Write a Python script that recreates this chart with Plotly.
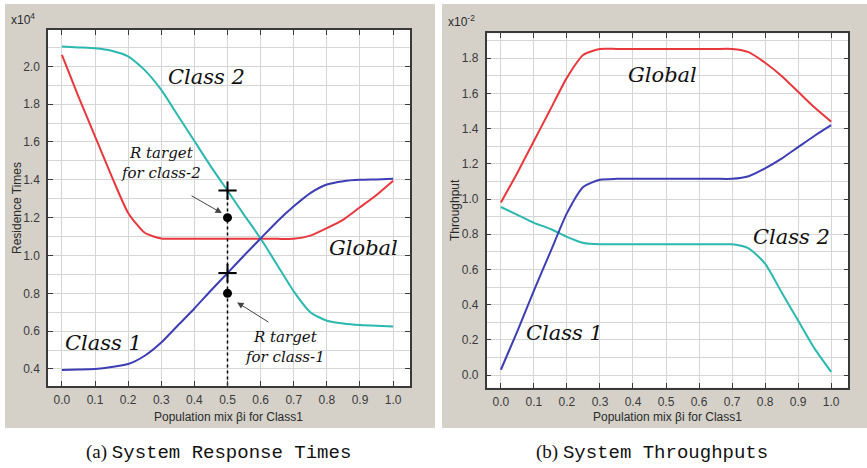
import plotly.graph_objects as go

# Population mix beta_i for Class1
mix = [0.0, 0.05, 0.1, 0.15, 0.2, 0.25, 0.3, 0.35, 0.4, 0.45, 0.5,
       0.55, 0.6, 0.65, 0.7, 0.75, 0.8, 0.85, 0.9, 0.95, 1.0]

# Residence times (x10^4)
resid_class1 = [0.395, 0.397, 0.40, 0.41, 0.426, 0.47, 0.54, 0.63, 0.72, 0.815, 0.907,
                1.0, 1.09, 1.18, 1.26, 1.33, 1.375, 1.393, 1.40, 1.402, 1.405]
resid_class2 = [2.105, 2.10, 2.095, 2.082, 2.052, 1.98, 1.875, 1.74, 1.605, 1.47, 1.343,
                1.215, 1.09, 0.95, 0.81, 0.70, 0.655, 0.64, 0.632, 0.628, 0.625]
resid_global = [2.06, 1.84, 1.63, 1.42, 1.225, 1.12, 1.09, 1.088, 1.088, 1.088, 1.088,
                1.088, 1.088, 1.088, 1.088, 1.105, 1.145, 1.19, 1.255, 1.32, 1.395]

# Throughputs (x10^-2)
thr_class1 = [0.03, 0.25, 0.48, 0.70, 0.92, 1.07, 1.11, 1.115, 1.115, 1.115, 1.115,
              1.115, 1.115, 1.115, 1.115, 1.13, 1.175, 1.23, 1.295, 1.36, 1.42]
thr_class2 = [0.955, 0.91, 0.865, 0.83, 0.785, 0.75, 0.743, 0.743, 0.743, 0.743, 0.743,
              0.743, 0.743, 0.743, 0.743, 0.72, 0.633, 0.47, 0.31, 0.15, 0.018]
thr_global = [0.98, 1.15, 1.33, 1.51, 1.69, 1.82, 1.853, 1.853, 1.853, 1.853, 1.853,
              1.853, 1.853, 1.853, 1.853, 1.835, 1.775, 1.70, 1.61, 1.52, 1.44]

# Response-time targets at beta = 0.5
target_mix = 0.5
target_class1 = 0.8
target_class2 = 1.2
achieved_class1 = 0.907
achieved_class2 = 1.343

x_ticks = [0.0, 0.1, 0.2, 0.3, 0.4, 0.5, 0.6, 0.7, 0.8, 0.9, 1.0]

RED = "#e8383d"
TEAL = "#2bb8ae"
BLUE = "#3d3db4"
PANEL = "#d5d1c9"
W, H = 867, 468

fig = go.Figure()

# Left panel: residence times
for ys, col in [(resid_global, RED), (resid_class2, TEAL), (resid_class1, BLUE)]:
    fig.add_trace(go.Scatter(x=mix, y=ys, mode="lines", line=dict(color=col, width=2, shape="spline", smoothing=0.6),
                             xaxis="x", yaxis="y", showlegend=False, hoverinfo="skip"))

y_lo_left = 0.31
fig.add_trace(go.Scatter(x=[target_mix, target_mix], y=[achieved_class2, y_lo_left], mode="lines",
                         line=dict(color="black", width=1.5, dash="dot"),
                         xaxis="x", yaxis="y", showlegend=False))
fig.add_trace(go.Scatter(x=[target_mix, target_mix], y=[achieved_class2, achieved_class1], mode="markers",
                         marker=dict(symbol="cross-thin", size=13, line=dict(color="black", width=2)),
                         xaxis="x", yaxis="y", showlegend=False))
fig.add_trace(go.Scatter(x=[target_mix, target_mix], y=[target_class2, target_class1], mode="markers",
                         marker=dict(symbol="circle", size=9, color="black"),
                         xaxis="x", yaxis="y", showlegend=False))

# Right panel: throughputs
for ys, col in [(thr_global, RED), (thr_class2, TEAL), (thr_class1, BLUE)]:
    fig.add_trace(go.Scatter(x=mix, y=ys, mode="lines", line=dict(color=col, width=2, shape="spline", smoothing=0.6),
                             xaxis="x2", yaxis="y2", showlegend=False, hoverinfo="skip"))


def px(xp):
    return xp / W


def py(yp):
    return 1 - yp / H


tick_font = dict(family="Liberation Sans, Arial, sans-serif", size=12, color="#3a3a3a")
grid = "#d6d6d6"
axis_common = dict(showline=True, linecolor="#3a3a3a", linewidth=1.5, mirror="allticks",
                   ticks="inside", ticklen=5, tickcolor="#3a3a3a", gridcolor=grid, gridwidth=1,
                   tickfont=tick_font, zeroline=False, tickformat=".1f")

fig.update_layout(
    width=W, height=H, margin=dict(l=0, r=0, t=0, b=0),
    paper_bgcolor="white", plot_bgcolor="rgba(0,0,0,0)",
    xaxis=dict(domain=[px(48), px(410)], range=[-0.042, 1.051], tickvals=x_ticks,
               anchor="y", ticklabelstandoff=2, **axis_common),
    yaxis=dict(domain=[py(386), py(30)], range=[y_lo_left, 2.192], tick0=0, dtick=0.2,
               minor=dict(dtick=0.1, showgrid=True, gridcolor=grid, ticks=""),
               anchor="x", ticklabelstandoff=4, **axis_common),
    xaxis2=dict(domain=[px(486.7), px(848.3)], range=[-0.043, 1.052], tickvals=x_ticks,
                anchor="y2", ticklabelstandoff=2, **axis_common),
    yaxis2=dict(domain=[py(387.7), py(33.3)], range=[-0.072, 1.942], tick0=0, dtick=0.2,
                minor=dict(dtick=0.1, showgrid=True, gridcolor=grid, ticks=""),
                anchor="x2", ticklabelstandoff=4, **axis_common),
)

# Gray panels and white plotting areas
shapes = [
    dict(type="rect", xref="paper", yref="paper", x0=px(5), x1=px(435), y0=py(428), y1=py(4),
         fillcolor=PANEL, line=dict(width=0), layer="below"),
    dict(type="rect", xref="paper", yref="paper", x0=px(442), x1=px(867), y0=py(428), y1=py(4),
         fillcolor=PANEL, line=dict(width=0), layer="below"),
    dict(type="rect", xref="x domain", yref="y domain", x0=0, x1=1, y0=0, y1=1,
         fillcolor="white", line=dict(width=0), layer="below"),
    dict(type="rect", xref="x2 domain", yref="y2 domain", x0=0, x1=1, y0=0, y1=1,
         fillcolor="white", line=dict(width=0), layer="below"),
]
fig.update_layout(shapes=shapes)

hand = dict(family="DejaVu Serif, serif", size=21, color="#111111")
small_hand = dict(family="DejaVu Serif, serif", size=15, color="#111111")
label_font = dict(family="Liberation Sans, Arial, sans-serif", size=12, color="#2a2a2a")


def note(text, x, y, xref="paper", yref="paper", font=label_font, **kw):
    # Text label centred on the given point
    return dict(text=text, x=x, y=y, xref=xref, yref=yref, xanchor=kw.pop("xanchor", "center"),
                yanchor="middle", showarrow=False, font=font, **kw)


annotations = [
    # Scale factors
    note("x10<sup>4</sup>", px(9), py(19), xanchor="left"),
    note("x10<sup>-2</sup>", px(446), py(21), xanchor="left"),
    # Axis titles
    note("Residence Times", px(17), py(208), textangle=-90),
    note("Throughput", px(455), py(210), textangle=-90),
    note("Population mix βi for Class1", px(229), py(417)),
    note("Population mix βi for Class1", px(667.5), py(417)),
    # Captions
    note("(a) <span style='font-family:Liberation Mono, monospace'>System Response Times</span>",
         px(218), py(452), font=dict(family="Liberation Serif, serif", size=19, color="#111111")),
    note("(b) <span style='font-family:Liberation Mono, monospace'>System Throughputs</span>",
         px(652), py(452), font=dict(family="Liberation Serif, serif", size=19, color="#111111")),
    # Curve labels, left panel
    note("<i>Class 2</i>", 0.438, 1.943, "x", "y", hand),
    note("<i>Class 1</i>", 0.127, 0.536, "x", "y", hand),
    note("<i>Global</i>", 0.912, 1.04, "x", "y", hand),
    note("<i>R target<br>for class-2</i>", 0.30, 1.49, "x", "y", small_hand),
    note("<i>R target<br>for class-1</i>", 0.674, 0.515, "x", "y", small_hand),
    dict(text="", x=0.483, y=1.224, xref="x", yref="y", ax=0.387, ay=1.32, axref="x", ayref="y",
         showarrow=True, arrowhead=2, arrowsize=1.3, arrowwidth=1, arrowcolor="#444444"),
    dict(text="", x=0.529, y=0.752, xref="x", yref="y", ax=0.628, ay=0.643, axref="x", ayref="y",
         showarrow=True, arrowhead=2, arrowsize=1.3, arrowwidth=1, arrowcolor="#444444"),
    # Curve labels, right panel
    note("<i>Global</i>", 0.488, 1.705, "x2", "y2", hand),
    note("<i>Class 2</i>", 0.879, 0.784, "x2", "y2", hand),
    note("<i>Class 1</i>", 0.194, 0.239, "x2", "y2", hand),
]
fig.update_layout(annotations=annotations)

fig.write_html("out.html")
